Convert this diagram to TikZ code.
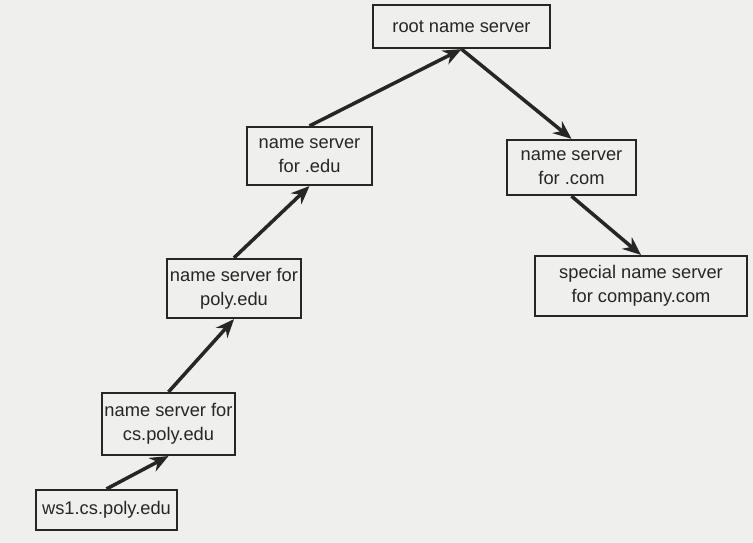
\documentclass[tikz,border=0pt]{standalone}
\usepackage{fontspec}
\setmainfont{Liberation Sans}
\usetikzlibrary{arrows.meta,positioning}
\definecolor{paper}{HTML}{EFEFED}
\definecolor{inkgray}{HTML}{262626}
\tikzset{
  server/.style={draw=inkgray,line width=1.5pt,align=center,inner sep=0pt,text=inkgray,font=\fontsize{13}{17}\selectfont},
  query/.style={-{Stealth[length=4.6mm,width=3.8mm]},line width=2.5pt,draw=inkgray},
}

\begin{document}
\begin{tikzpicture}[x=0.025cm,y=-0.025cm]
			\fill[paper] (0,0) rectangle (753,543);
			\useasboundingbox (0,0) rectangle (753,543);
			\node[server,minimum width=4.43cm,minimum height=1.08cm] (root) at (461.5,26.5) {root name server};
			\node[server,minimum width=3.13cm,minimum height=1.45cm] (edu) at (309.5,156) {name server\\for .edu};
			\node[server,minimum width=3.23cm,minimum height=1.38cm] (com) at (571.5,167.5) {name server\\for .com};
			\node[server,minimum width=5.3cm,minimum height=1.5cm] (company) at (641,286) {special name server\\for company.com};
			\node[server,minimum width=3.35cm,minimum height=1.48cm] (poly) at (234,288.5) {name server for\\poly.edu};
			\node[server,minimum width=3.33cm,minimum height=1.55cm] (cspoly) at (168.5,424) {name server for\\cs.poly.edu};
			\node[server,minimum width=3.53cm,minimum height=1cm] (ws) at (106.5,510) {ws1.cs.poly.edu};
			\draw[query] (ws.north)--(cspoly.south);
			\draw[query] (cspoly.north)--(poly.south);
			\draw[query] (poly.north)--(edu.south);
			\draw[query] (edu.north)--(root.south);
			\draw[query] (root.south)--(com.north);
			\draw[query] (com.south)--(company.north);
		\end{tikzpicture}
\end{document}
